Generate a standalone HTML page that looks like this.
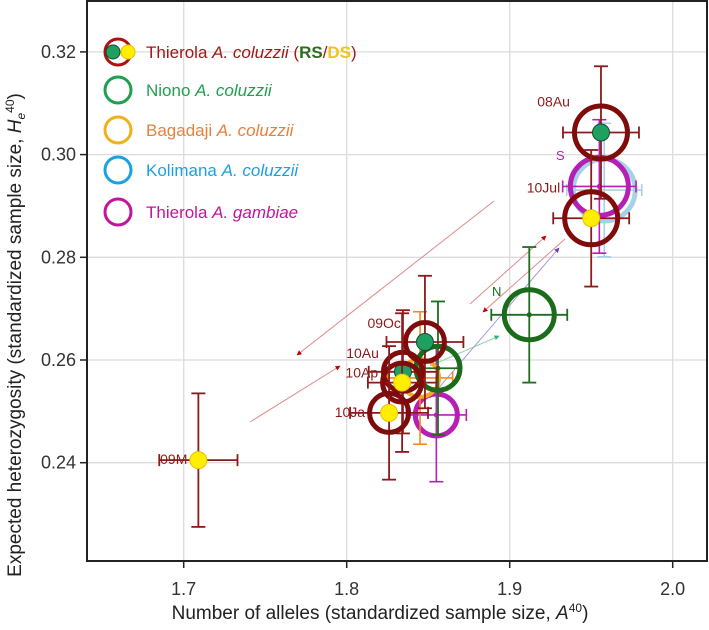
<!DOCTYPE html>
<html><head><meta charset="utf-8"><style>
body{margin:0;background:#fff;}
svg{display:block;font-family:"Liberation Sans",sans-serif;}
</style></head><body>
<svg id="chart" width="709" height="630"></svg>
<script>
// ---- data ----
const xTicks = [1.7, 1.8, 1.9, 2.0];
const xTickLabels = ["1.7", "1.8", "1.9", "2.0"];
const yTicks = [0.24, 0.26, 0.28, 0.30, 0.32];
const yTickLabels = ["0.24", "0.26", "0.28", "0.30", "0.32"];
// Thierola A. coluzzii: label, A40, He40, errA, errHe, dot type
const thLabels = ["08Au", "10Jul", "09Oc", "10Au", "10Ap", "10Ja", "09M"];
const thX = [1.956, 1.950, 1.848, 1.8345, 1.834, 1.826, 1.709];
const thY = [0.3043, 0.2876, 0.2635, 0.2577, 0.2556, 0.2497, 0.2405];
const thEX = [0.0233, 0.0233, 0.0236, 0.021, 0.021, 0.0239, 0.024];
const thEY = [0.0129, 0.0133, 0.0129, 0.012, 0.0135, 0.013, 0.013];
const thDot = ["RS", "DS", "RS", "RS", "DS", "DS", "DS"];
const thR = [29, 29, 22, 22, 22, 22, 0];
// Niono
const niX = [1.912, 1.856];
const niY = [0.2688, 0.2584];
const niEX = [0.0233, 0.0135];
const niEY = [0.0132, 0.013];
const niR = [27, 24];
// Bagadaji
const baX = [1.845];
const baY = [0.2565];
const baEX = [0.02];
const baEY = [0.0129];
// Kolimana
const koX = [1.958];
const koY = [0.2931];
const koEX = [0.023];
const koEY = [0.013];
// Thierola A. gambiae
const gaX = [1.955, 1.855];
const gaY = [0.2938, 0.2493];
const gaEX = [0.0225, 0.0184];
const gaEY = [0.013, 0.013];
const gaR = [31, 23];

// ---- axes ----
const L = 87, R = 707, T = 1, B = 561;
function xs(v){ return 183.7 + (v - 1.7) * 1630; }
function ys(v){ return 462.7 - (v - 0.24) * 5135; }

const svg = document.getElementById('chart');
const NS = 'http://www.w3.org/2000/svg';
function mk(tag, attrs, parent){
  const e = document.createElementNS(NS, tag);
  for (const k in attrs) e.setAttribute(k, attrs[k]);
  (parent || svg).appendChild(e);
  return e;
}

// grid
const grid = mk('g', {});


xTicks.forEach(v => mk('line', {x1: xs(v), x2: xs(v), y1: T, y2: B, stroke: '#dcdcdc', 'stroke-width': 1.3}, grid));
yTicks.forEach(v => mk('line', {x1: L, x2: R, y1: ys(v), y2: ys(v), stroke: '#dcdcdc', 'stroke-width': 1.3}, grid));

// axis ticks & labels
const xAxis = mk('g', {});


xTicks.forEach((v, i) => {
  mk('line', {x1: xs(v), x2: xs(v), y1: B, y2: B + 7, stroke: '#222', 'stroke-width': 1.5}, xAxis);
  const t = mk('text', {x: xs(v), y: B + 34, 'text-anchor': 'middle', 'font-size': 18, fill: '#333'}, xAxis);
  t.textContent = xTickLabels[i];
  
  
});
const yAxis = mk('g', {});


yTicks.forEach((v, i) => {
  mk('line', {x1: L - 7, x2: L, y1: ys(v), y2: ys(v), stroke: '#222', 'stroke-width': 1.5}, yAxis);
  const t = mk('text', {x: L - 11, y: ys(v) + 6, 'text-anchor': 'end', 'font-size': 18, fill: '#333'}, yAxis);
  t.textContent = yTickLabels[i];
  
  
});

// arrows
const defs = mk('defs', {});
function marker(id, color){
  const m = mk('marker', {id: id, viewBox: '0 0 10 10', refX: 9, refY: 5, markerWidth: 5, markerHeight: 5, orient: 'auto'}, defs);
  mk('path', {d: 'M0,0 L10,5 L0,10 z', fill: color}, m);
}
marker('ar', '#c00000'); marker('ag', '#22b573'); marker('ap', '#6a3fb0');
const arrows = mk('g', {});


[[494,201,297,355,'#e08a8a','ar'],[250,422,340,366,'#e08a8a','ar'],[470,304,546,236,'#e08a8a','ar'],
 [565,239,483,312,'#e08a8a','ar'],[430,366,499,336,'#8fd6b0','ag'],[430,398,559,248,'#a99ad6','ap']].forEach(a => {
  mk('line', {x1: a[0], y1: a[1], x2: a[2], y2: a[3], stroke: a[4], 'stroke-width': 1, 'marker-end': 'url(#' + a[5] + ')'}, arrows);
});

// series drawing
function errbars(g, x, y, ex, ey, color, w){
  const cx = xs(x), cy = ys(y), x0 = xs(x - ex), x1 = xs(x + ex), y0 = ys(y + ey), y1 = ys(y - ey);
  mk('line', {x1: x0, x2: x1, y1: cy, y2: cy, stroke: color, 'stroke-width': w}, g);
  mk('line', {x1: cx, x2: cx, y1: y0, y2: y1, stroke: color, 'stroke-width': w}, g);
  mk('line', {x1: x0, x2: x0, y1: cy - 6, y2: cy + 6, stroke: color, 'stroke-width': w}, g);
  mk('line', {x1: x1, x2: x1, y1: cy - 6, y2: cy + 6, stroke: color, 'stroke-width': w}, g);
  mk('line', {x1: cx - 7, x2: cx + 7, y1: y0, y2: y0, stroke: color, 'stroke-width': w}, g);
  mk('line', {x1: cx - 7, x2: cx + 7, y1: y1, y2: y1, stroke: color, 'stroke-width': w}, g);
}

// Kolimana
const gK = mk('g', {});


koX.forEach((v, i) => {
  errbars(gK, v, koY[i], koEX[i], koEY[i], '#a8d0e6', 1.6);
  const c = mk('circle', {cx: xs(v), cy: ys(koY[i]), r: 31, fill: 'none', stroke: '#a8d0e6', 'stroke-width': 5}, gK);
  
  
});
// Gambiae
const gG = mk('g', {});


gaX.forEach((v, i) => {
  errbars(gG, v, gaY[i], gaEX[i], gaEY[i], '#b51fb5', 1.6);
  const c = mk('circle', {cx: xs(v), cy: ys(gaY[i]), r: gaR[i] - 2, fill: 'none', stroke: '#b51fb5', 'stroke-width': 5}, gG);
  
  
  mk('circle', {cx: xs(v), cy: ys(gaY[i]), r: 2.5, fill: '#b51fb5'}, gG);
});
// Bagadaji
const gB = mk('g', {});


baX.forEach((v, i) => {
  errbars(gB, v, baY[i], baEX[i], baEY[i], '#f08a1c', 1.6);
  const c = mk('circle', {cx: xs(v), cy: ys(baY[i]), r: 19, fill: 'none', stroke: '#f5a623', 'stroke-width': 4}, gB);
  
  
});
// Niono
const gN = mk('g', {});


niX.forEach((v, i) => {
  errbars(gN, v, niY[i], niEX[i], niEY[i], '#1f6e1f', 1.8);
  const c = mk('circle', {cx: xs(v), cy: ys(niY[i]), r: niR[i] - 2, fill: 'none', stroke: '#1a6b1a', 'stroke-width': 5}, gN);
  
  
  mk('circle', {cx: xs(v), cy: ys(niY[i]), r: 2.5, fill: '#1a6b1a'}, gN);
});
// Thierola coluzzii
const gT = mk('g', {});


thX.forEach((v, i) => {
  errbars(gT, v, thY[i], thEX[i], thEY[i], '#8b1a1a', 1.8);
  if (thR[i] > 0) {
    const c = mk('circle', {cx: xs(v), cy: ys(thY[i]), r: thR[i] - 2.5, fill: 'none', stroke: '#7f0b0b', 'stroke-width': 5}, gT);
    
    
  }
  const rs = thDot[i] === 'RS';
  const d = mk('circle', {cx: xs(v), cy: ys(thY[i]), r: 8.5, fill: rs ? '#1fa060' : '#ffee00', stroke: rs ? '#0d5030' : '#e8c000', 'stroke-width': 1}, gT);
  
  
  const lab = mk('text', {x: xs(v) - (thR[i] > 0 ? thR[i] + 2 : 11), y: ys(thY[i]) - (i < 2 ? 26 : (i === 3 ? 14 : (i === 4 ? 5 : (i === 5 ? -4 : (i === 2 ? 14 : -4))))), 'text-anchor': 'end', 'font-size': 14, fill: '#8b1a1a'}, gT);
  lab.textContent = thLabels[i];
  
  
});
const sLab = mk('text', {x: 556, y: 160, 'font-size': 13, fill: '#b51fb5'});
sLab.textContent = 'S';


const nLab = mk('text', {x: 492, y: 296, 'font-size': 13, fill: '#1a6b1a'});
nLab.textContent = 'N';



// frame
const frame = mk('rect', {x: L, y: T, width: R - L, height: B - T, fill: 'none', stroke: '#222', 'stroke-width': 2});


</script>
<svg width="709" height="630" style="position:absolute;left:0;top:0;font-family:'Liberation Sans',sans-serif">
  <g>
    <g>
      <circle cx="118" cy="52" r="13" fill="none" stroke="#b01010" stroke-width="3"/>
      <circle cx="113" cy="52" r="7" fill="#1fa060" stroke="#0d5030" stroke-width="1"/>
      <circle cx="128" cy="52" r="7" fill="#ffee00" stroke="#e8c000" stroke-width="1"/>
      <text x="146" y="58" font-size="17" fill="#a01818">Thierola <tspan font-style="italic">A. coluzzii</tspan> (<tspan font-weight="bold" fill="#2e6b1f">RS</tspan>/<tspan font-weight="bold" fill="#f0c419">DS</tspan>)</text>
    </g>
    <g>
      <circle cx="118" cy="90" r="13" fill="none" stroke="#1fa04f" stroke-width="3"/>
      <text x="146" y="96" font-size="17" fill="#1fa04f">Niono <tspan font-style="italic">A. coluzzii</tspan></text>
    </g>
    <g>
      <circle cx="118" cy="130" r="13" fill="none" stroke="#f0b21a" stroke-width="3"/>
      <text x="146" y="136" font-size="17" fill="#e8803a">Bagadaji <tspan font-style="italic">A. coluzzii</tspan></text>
    </g>
    <g>
      <circle cx="118" cy="170" r="13" fill="none" stroke="#1ba1e2" stroke-width="3"/>
      <text x="146" y="176" font-size="17" fill="#1ba1e2">Kolimana <tspan font-style="italic">A. coluzzii</tspan></text>
    </g>
    <g>
      <circle cx="118" cy="212" r="13" fill="none" stroke="#c0169b" stroke-width="3"/>
      <text x="146" y="218" font-size="17" fill="#c0169b">Thierola <tspan font-style="italic">A. gambiae</tspan></text>
    </g>
  </g>
  <text x="380" y="619" text-anchor="middle" font-size="19" fill="#222">Number of alleles (standardized sample size, <tspan font-style="italic">A</tspan><tspan font-size="12" dy="-7">40</tspan><tspan dy="7">)</tspan></text>
  <text transform="translate(21,335) rotate(-90)" text-anchor="middle" font-size="19" fill="#222">Expected heterozygosity (standardized sample size, <tspan font-style="italic">H</tspan><tspan font-style="italic" font-size="12" dy="4">e</tspan><tspan font-size="12" dy="-11">40</tspan><tspan dy="7">)</tspan></text>
</svg>
</body></html>
